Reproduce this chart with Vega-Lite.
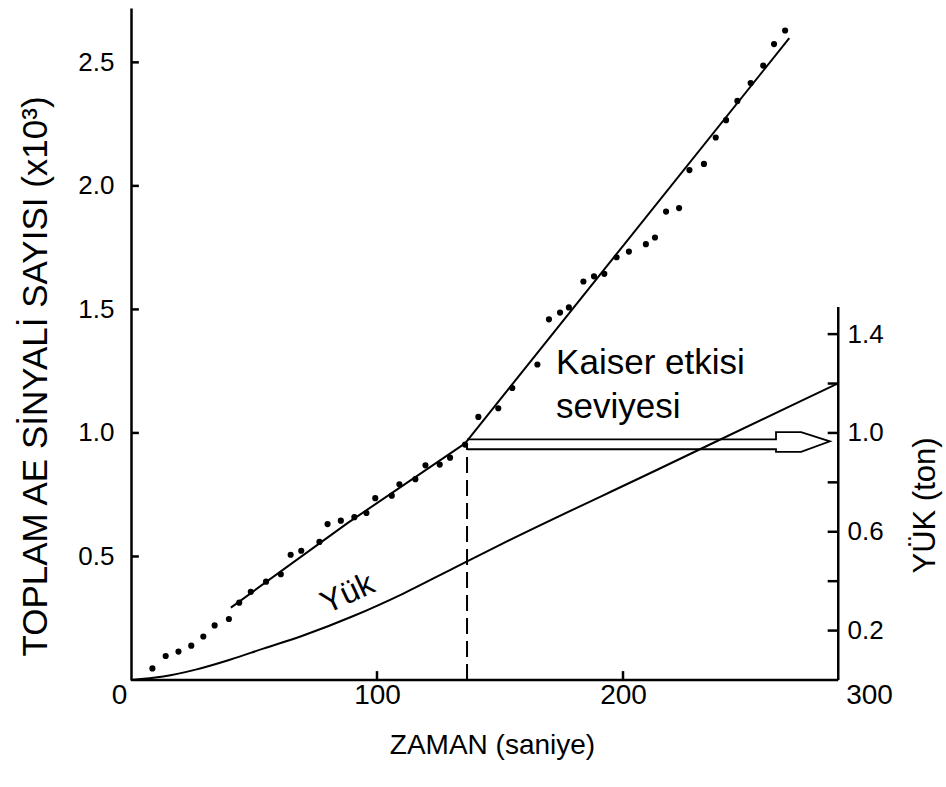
{
  "$schema": "https://vega.github.io/schema/vega-lite/v6.json",
  "width": 738,
  "height": 672,
  "autosize": {"type": "none"},
  "padding": {"left": 131, "top": 8, "right": 77, "bottom": 107},
  "background": "white",
  "config": {
    "view": {"stroke": null},
    "font": "Liberation Sans",
    "axis": {
      "grid": false,
      "ticks": false,
      "labelFont": "Liberation Sans",
      "titleFont": "Liberation Sans",
      "labelColor": "black",
      "titleColor": "black",
      "domainColor": "black",
      "titleFontWeight": "normal",
      "labelFontSize": 26,
      "domainWidth": 2.5,
      "labelFlush": false
    }
  },
  "datasets": {
    "pts": [
      {"t": 8.7, "n": 0.047}, {"t": 14.1, "n": 0.097}, {"t": 19.3, "n": 0.115}, {"t": 24.5, "n": 0.139},
      {"t": 29.4, "n": 0.176}, {"t": 34.0, "n": 0.221}, {"t": 39.8, "n": 0.247}, {"t": 44.0, "n": 0.313},
      {"t": 48.7, "n": 0.357}, {"t": 54.9, "n": 0.398}, {"t": 60.9, "n": 0.428}, {"t": 64.9, "n": 0.507},
      {"t": 69.2, "n": 0.523}, {"t": 76.6, "n": 0.559}, {"t": 79.9, "n": 0.631}, {"t": 85.3, "n": 0.645},
      {"t": 90.8, "n": 0.659}, {"t": 95.7, "n": 0.676}, {"t": 99.3, "n": 0.736}, {"t": 106.0, "n": 0.746},
      {"t": 109.1, "n": 0.792}, {"t": 115.6, "n": 0.813}, {"t": 119.7, "n": 0.869}, {"t": 125.5, "n": 0.872},
      {"t": 129.7, "n": 0.9}, {"t": 135.8, "n": 0.953}, {"t": 141.2, "n": 1.065}, {"t": 149.3, "n": 1.1},
      {"t": 155.0, "n": 1.182}, {"t": 165.2, "n": 1.277}, {"t": 169.9, "n": 1.46}, {"t": 174.4, "n": 1.487},
      {"t": 178.0, "n": 1.508}, {"t": 183.9, "n": 1.613}, {"t": 188.2, "n": 1.634}, {"t": 192.4, "n": 1.644},
      {"t": 197.4, "n": 1.711}, {"t": 202.4, "n": 1.734}, {"t": 209.3, "n": 1.764}, {"t": 213.0, "n": 1.791},
      {"t": 217.5, "n": 1.896}, {"t": 222.8, "n": 1.91}, {"t": 227.0, "n": 2.064}, {"t": 232.9, "n": 2.089},
      {"t": 237.7, "n": 2.196}, {"t": 241.9, "n": 2.266}, {"t": 246.5, "n": 2.344}, {"t": 251.9, "n": 2.416},
      {"t": 257.0, "n": 2.487}, {"t": 261.4, "n": 2.574}, {"t": 265.9, "n": 2.629}
    ],
    "fit": [
      {"seg": "a", "t": 40.6, "n": 0.293}, {"seg": "a", "t": 88.0, "n": 0.635}, {"seg": "a", "t": 135.8, "n": 0.958},
      {"seg": "b", "t": 135.8, "n": 0.958}, {"seg": "b", "t": 267.6, "n": 2.598}
    ],
    "yuk": [
      {"t": 0, "n": 0}, {"t": 13.1, "n": 0.014}, {"t": 26.7, "n": 0.043}, {"t": 40.2, "n": 0.082},
      {"t": 53.8, "n": 0.127}, {"t": 70.0, "n": 0.18}, {"t": 90.4, "n": 0.259}, {"t": 110.7, "n": 0.35},
      {"t": 131.0, "n": 0.452}, {"t": 150.0, "n": 0.547}, {"t": 213.7, "n": 0.85}, {"t": 273.3, "n": 1.134},
      {"t": 287.5, "n": 1.201}
    ],
    "arrow": [
      {"o": 1, "t": 136.6, "n": 0.974}, {"o": 2, "t": 262.2, "n": 0.974}, {"o": 3, "t": 262.2, "n": 1.003},
      {"o": 4, "t": 272.4, "n": 1.003}, {"o": 5, "t": 284.1, "n": 0.966}, {"o": 6, "t": 272.4, "n": 0.923},
      {"o": 7, "t": 262.2, "n": 0.923}, {"o": 8, "t": 262.2, "n": 0.934}, {"o": 9, "t": 136.6, "n": 0.934}
    ],
    "frame": [
      {"t": 0, "t2": 287.5, "n": 0, "n2": 0},
      {"t": 287.5, "t2": 287.5, "n": 0, "n2": 1.51}
    ],
    "tickmarks": [
      {"t": 0, "t2": 3.2, "n": 0.5, "n2": 0.5},
      {"t": 0, "t2": 3.2, "n": 1.0, "n2": 1.0},
      {"t": 0, "t2": 3.2, "n": 1.5, "n2": 1.5},
      {"t": 0, "t2": 3.2, "n": 2.0, "n2": 2.0},
      {"t": 0, "t2": 3.2, "n": 2.5, "n2": 2.5},
      {"t": 100, "t2": 100, "n": 0, "n2": 0.036},
      {"t": 200, "t2": 200, "n": 0, "n2": 0.036},
      {"t": 283.2, "t2": 287.5, "n": 0.2, "n2": 0.2},
      {"t": 283.2, "t2": 287.5, "n": 0.4, "n2": 0.4},
      {"t": 283.2, "t2": 287.5, "n": 0.6, "n2": 0.6},
      {"t": 283.2, "t2": 287.5, "n": 0.8, "n2": 0.8},
      {"t": 283.2, "t2": 287.5, "n": 1.0, "n2": 1.0},
      {"t": 283.2, "t2": 287.5, "n": 1.2, "n2": 1.2},
      {"t": 283.2, "t2": 287.5, "n": 1.4, "n2": 1.4}
    ],
    "kaiser": [
      {"t": 136.6, "n": 0, "n2": 0.955}
    ],
    "notes": [
      {"t": 172.8, "n": 1.239, "label": "Kaiser etkisi"},
      {"t": 172.8, "n": 1.061, "label": "seviyesi"}
    ],
    "yuknote": [
      {"t": 88, "n": 0.35, "label": "Yük"}
    ]
  },
  "layer": [
    {
      "encoding": {
        "x": {
          "field": "t", "type": "quantitative",
          "scale": {"domain": [0, 300], "nice": false, "zero": false},
          "axis": {
            "values": [0, 100, 200, 300], "format": "d", "domain": false,
            "labelPadding": 1, "labelFontSize": 28,
            "labelOffset": {"condition": {"test": "datum.value == 0", "value": -12}, "value": 0},
            "title": "ZAMAN (saniye)", "titleFontSize": 28, "titleX": 361, "titleY": 65,
            "titleAlign": "center", "titleBaseline": "middle"
          }
        },
        "y": {
          "field": "n", "type": "quantitative",
          "scale": {"domain": [0, 2.72], "nice": false, "zero": false},
          "axis": {
            "values": [0.5, 1, 1.5, 2, 2.5], "format": ".1f", "labelPadding": 17,
            "title": "TOPLAM AE SİNYALİ  SAYISI (x10³)", "titleFontSize": 35,
            "titleX": -96, "titleY": 368, "titleAngle": 270, "titleAlign": "center", "titleBaseline": "middle"
          }
        }
      },
      "layer": [
        {
          "data": {"name": "pts"},
          "mark": {"type": "point", "filled": true, "color": "black", "size": 38, "opacity": 1}
        },
        {
          "data": {"name": "fit"},
          "mark": {"type": "line", "color": "black", "strokeWidth": 2},
          "encoding": {"detail": {"field": "seg"}}
        },
        {
          "data": {"name": "arrow"},
          "mark": {"type": "line", "color": "black", "strokeWidth": 1.8},
          "encoding": {"order": {"field": "o", "type": "quantitative"}}
        },
        {
          "data": {"name": "frame"},
          "mark": {"type": "rule", "color": "black", "strokeWidth": 2.5},
          "encoding": {"x2": {"field": "t2"}, "y2": {"field": "n2"}}
        },
        {
          "data": {"name": "tickmarks"},
          "mark": {"type": "rule", "color": "black", "strokeWidth": 2.5},
          "encoding": {"x2": {"field": "t2"}, "y2": {"field": "n2"}}
        },
        {
          "data": {"name": "kaiser"},
          "mark": {"type": "rule", "color": "black", "strokeWidth": 2, "strokeDash": [16, 7]},
          "encoding": {"y2": {"field": "n2"}}
        },
        {
          "data": {"name": "notes"},
          "mark": {"type": "text", "align": "left", "baseline": "alphabetic", "fontSize": 35, "color": "black", "font": "Liberation Sans"},
          "encoding": {"text": {"field": "label"}}
        }
      ]
    },
    {
      "encoding": {
        "x": {"field": "t", "type": "quantitative"},
        "y": {
          "field": "n", "type": "quantitative",
          "scale": {"domain": [0, 2.72], "nice": false, "zero": false},
          "axis": {
            "orient": "right", "offset": -31,
            "values": [0.2, 0.6, 1.0, 1.4], "format": ".1f",
            "domain": false, "labelPadding": 9,
            "title": "YÜK (ton)", "titleFontSize": 31, "titleAngle": 270,
            "titleX": 87, "titleY": 497, "titleAlign": "center", "titleBaseline": "middle"
          }
        }
      },
      "layer": [
        {
          "data": {"name": "yuk"},
          "mark": {"type": "line", "color": "black", "strokeWidth": 2, "interpolate": "monotone"}
        },
        {
          "data": {"name": "yuknote"},
          "mark": {"type": "text", "align": "center", "baseline": "middle", "fontSize": 32, "angle": -25, "color": "black", "font": "Liberation Sans"},
          "encoding": {"text": {"field": "label"}}
        }
      ]
    }
  ],
  "resolve": {"scale": {"y": "independent"}}
}
